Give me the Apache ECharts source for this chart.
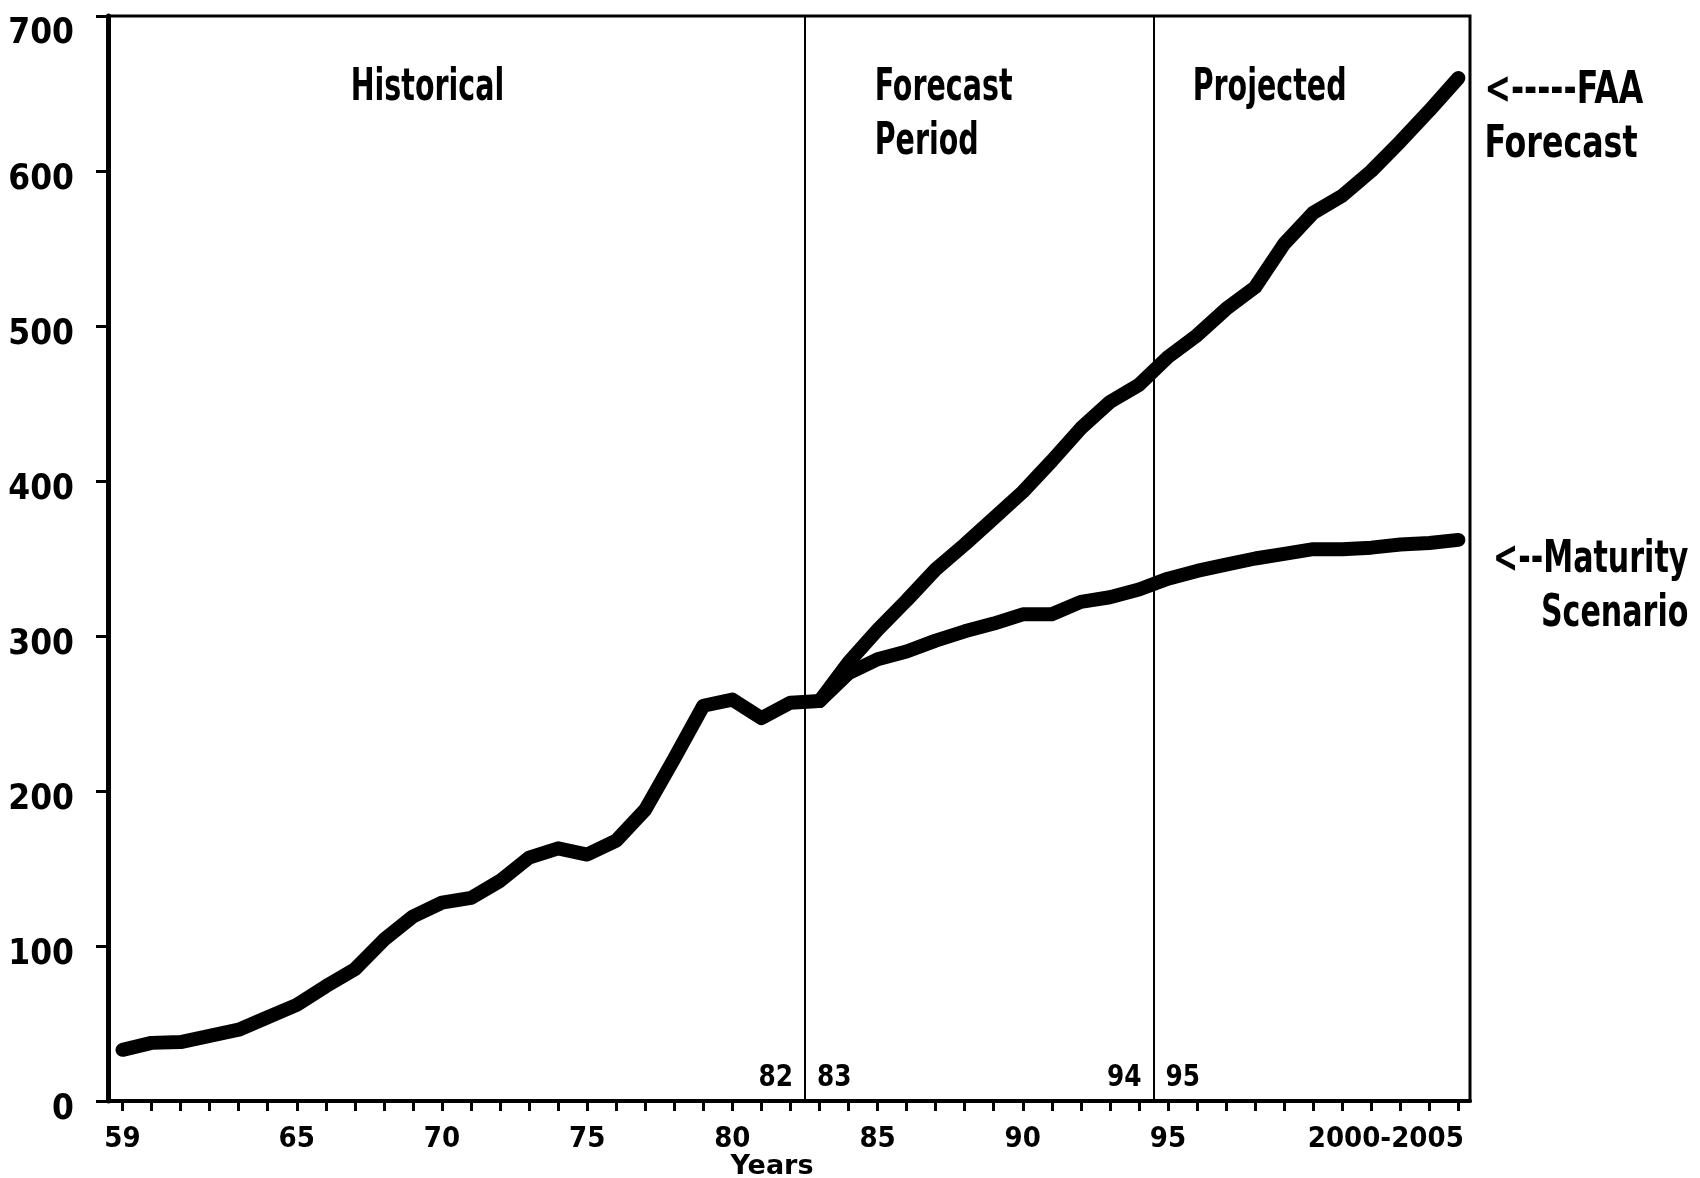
<!DOCTYPE html>
<html>
<head>
<meta charset="utf-8">
<title>Historical, forecast and projected</title>
<script src="https://cdn.jsdelivr.net/npm/echarts@6/dist/echarts.min.js"></script>
<style>
html, body { margin: 0; padding: 0; background: #fff; }
#chart { width: 1700px; height: 1178px; }
</style>
</head>
<body>
<div id="chart"></div>
<script>
// historical, 1959 - 1983
var histYears = [1959, 1960, 1961, 1962, 1963, 1964, 1965, 1966, 1967, 1968, 1969, 1970,
    1971, 1972, 1973, 1974, 1975, 1976, 1977, 1978, 1979, 1980, 1981, 1982, 1983];
var histValues = [33, 37.5, 38, 42, 46, 54, 62, 74, 85, 104, 119, 128,
    131, 142, 157, 163, 159, 168, 188, 221, 255, 259, 247, 257, 258];

// forecast / projected, 1983 - 2005
var fcYears = [1983, 1984, 1985, 1986, 1987, 1988, 1989, 1990, 1991, 1992, 1993, 1994,
    1995, 1996, 1997, 1998, 1999, 2000, 2001, 2002, 2003, 2004, 2005];
var faaValues = [258, 283, 304, 323, 343, 359, 376, 393, 413, 434, 451, 462,
    480, 494, 511, 525, 553, 573, 584, 600, 619, 639, 660];
var maturityValues = [258, 276, 285, 290, 297, 303, 308, 314, 314, 322, 325, 330,
    337, 342, 346, 350, 353, 356, 356, 357, 359, 360, 362];

// x axis ticks and labels
var firstTickYear = 1959;
var lastTickYear = 2005;
var xLabelYears = [1959, 1965, 1970, 1975, 1980, 1985, 1990, 1995, 2002.5];
var xLabelTexts = ['59', '65', '70', '75', '80', '85', '90', '95', '2000-2005'];

// period dividers and their year marks
var dividerYears = [1982.5, 1994.5];
var boundaryYears = [1982.5, 1982.5, 1994.5, 1994.5];
var boundaryTexts = ['82', '83', '94', '95'];
var boundarySides = ['left', 'right', 'left', 'right'];

// period headings
var periodTexts = ['Historical', 'Forecast\nPeriod', 'Projected'];
var periodYears = [1969.5, 1984.9, 1995.85];
var periodAligns = ['center', 'left', 'left'];

// end notes
var endTexts = ['<-----FAA\nForecast', '<--Maturity\nScenario'];

const COND = '"DejaVu Sans Condensed", "DejaVu Sans", sans-serif';
const WIDE = '"DejaVu Sans", "Liberation Sans", sans-serif';

let tickYears = [];
for (let y = firstTickYear; y <= lastTickYear; y++) tickYears.push(y);

let labelText = {};
xLabelYears.forEach((y, i) => { labelText[y] = xLabelTexts[i]; });

let chart = echarts.init(document.getElementById('chart'), null, { renderer: 'canvas' });

let thickLine = {
    color: '#000',
    width: 14,
    cap: 'round',
    join: 'round'
};

let option = {
    animation: false,
    backgroundColor: '#fff',
    grid: {
        left: 108,
        right: 230,
        top: 16,
        bottom: 77,
        outerBoundsMode: 'none',
        containLabel: false,
        show: true,
        borderColor: '#000',
        borderWidth: 3,
        backgroundColor: 'transparent'
    },
    xAxis: {
        type: 'value',
        min: 1958.5,
        max: 2005.4,
        name: 'Years',
        nameLocation: 'middle',
        nameGap: 52,
        nameMoveOverlap: false,
        nameTextStyle: {
            color: '#000',
            fontFamily: WIDE,
            fontWeight: 'bold',
            fontSize: 27,
            padding: [0, 34, 0, 0]
        },
        axisLine: { show: true, onZero: false, lineStyle: { color: '#000', width: 4 } },
        axisTick: {
            show: true,
            customValues: tickYears,
            length: 10,
            lineStyle: { color: '#000', width: 3 }
        },
        axisLabel: {
            show: true,
            customValues: xLabelYears,
            formatter: (v) => labelText[v] || '',
            margin: 24,
            color: '#000',
            fontFamily: COND,
            fontWeight: 'bold',
            fontSize: 29
        },
        splitLine: { show: false }
    },
    yAxis: {
        type: 'value',
        min: 0,
        max: 700,
        interval: 100,
        axisLine: { show: true, lineStyle: { color: '#000', width: 5 } },
        axisTick: { show: true, length: 12, lineStyle: { color: '#000', width: 3 } },
        axisLabel: {
            margin: 34,
            color: '#000',
            fontFamily: COND,
            fontWeight: 'bold',
            fontSize: 35,
            verticalAlign: 'top',
            lineHeight: 18,
            formatter: (v) => (v === 700 ? '{top|700}' : String(v)),
            rich: {
                top: {
                    color: '#000',
                    fontFamily: COND,
                    fontWeight: 'bold',
                    fontSize: 35,
                    lineHeight: 18,
                    padding: [17, 0, 0, 0]
                }
            }
        },
        splitLine: { show: false }
    },
    series: [
        {
            name: 'Historical',
            type: 'line',
            data: histYears.map((y, i) => [y, histValues[i]]),
            showSymbol: false,
            lineStyle: thickLine,
            silent: true,
            z: 3,
            markLine: {
                silent: true,
                symbol: ['none', 'none'],
                label: { show: false },
                lineStyle: { color: '#000', width: 2, type: 'solid' },
                data: dividerYears.map((y) => ({ xAxis: y }))
            }
        },
        {
            name: 'FAA Forecast',
            type: 'line',
            data: fcYears.map((y, i) => [y, faaValues[i]]),
            showSymbol: false,
            lineStyle: thickLine,
            silent: true,
            z: 3
        },
        {
            name: 'Maturity Scenario',
            type: 'line',
            data: fcYears.map((y, i) => [y, maturityValues[i]]),
            showSymbol: false,
            lineStyle: thickLine,
            silent: true,
            z: 3
        }
    ]
};

chart.setOption(option);

// condensed annotation text, placed through the chart's own scales
let toPx = function (x, y) {
    return chart.convertToPixel({ gridIndex: 0 }, [x, y]);
};
let noteText = function (p, text, align, vAlign, size, sx) {
    return {
        type: 'text',
        x: p[0],
        y: p[1],
        scaleX: sx,
        silent: true,
        z: 10,
        style: {
            text: text,
            fill: '#000',
            fontFamily: COND,
            fontWeight: 'bold',
            fontSize: size,
            lineHeight: 54,
            align: align,
            verticalAlign: vAlign
        }
    };
};

let notes = [];
boundaryYears.forEach((y, i) => {
    let p = toPx(y, 0);
    let left = boundarySides[i] === 'left';
    notes.push(noteText([p[0] + (left ? -12 : 12), p[1] - 23], boundaryTexts[i],
        left ? 'right' : 'left', 'middle', 30, 0.92));
});
periodTexts.forEach((t, i) => {
    let p = toPx(periodYears[i], 700);
    notes.push(noteText([p[0], p[1] + 46], t, periodAligns[i], 'top', 44, 0.72));
});
let faaEnd = toPx(lastTickYear, faaValues[faaValues.length - 1]);
notes.push(noteText([faaEnd[0] + 26, faaEnd[1] - 13], endTexts[0], 'left', 'top', 44, 0.8));
let matEnd = toPx(lastTickYear, maturityValues[maturityValues.length - 1]);
notes.push(noteText([matEnd[0] + 230, matEnd[1] - 6], endTexts[1], 'right', 'top', 44, 0.76));

chart.setOption({ graphic: notes });
</script>
</body>
</html>
